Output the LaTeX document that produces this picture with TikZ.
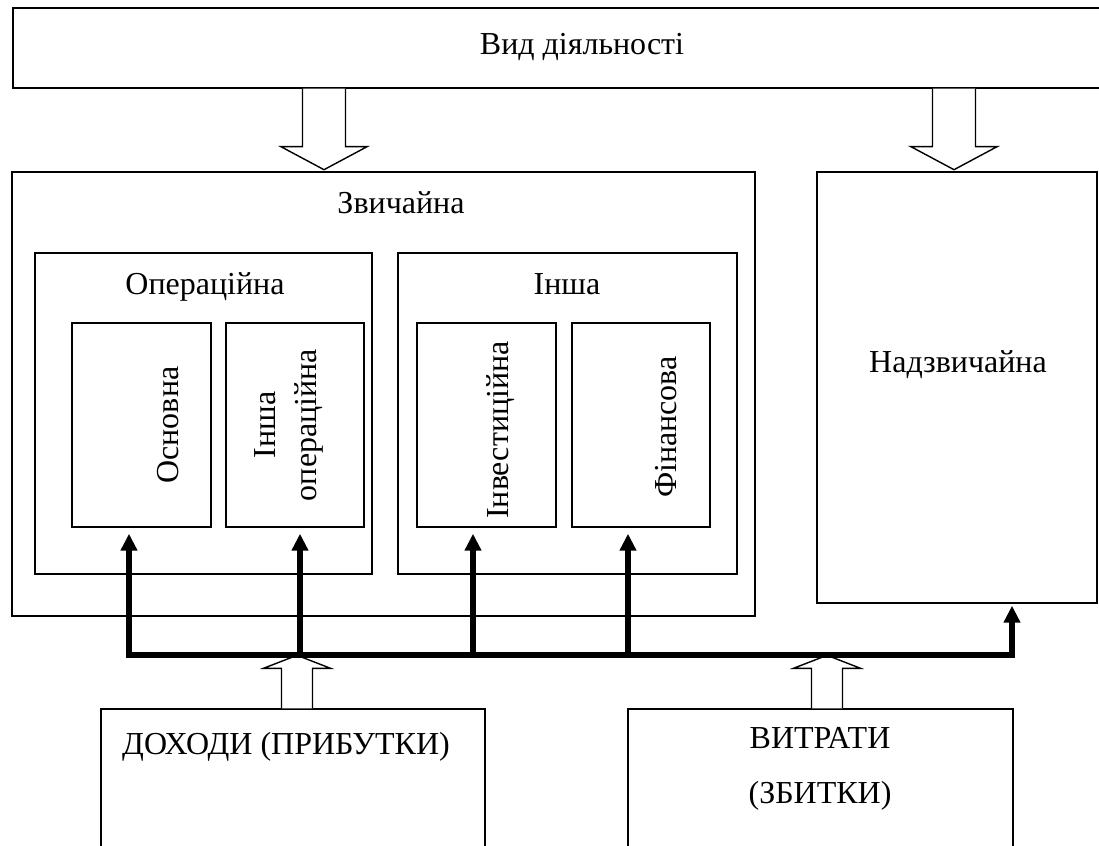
\documentclass[tikz,border=0pt]{standalone}
\usepackage{fontspec}
\setmainfont{Liberation Serif}
\usetikzlibrary{arrows.meta,fit}
\begin{document}
\begin{tikzpicture}[x=1pt,y=-1pt,
  box/.style={draw, line width=1.4pt, inner sep=0pt},
  lbl/.style={font=\fontsize{32}{41}\selectfont, inner sep=0pt, anchor=base},
  rlbl/.style={lbl, rotate=90},
  bus/.style={line width=5.5pt, line join=miter},
  bustip/.tip={Triangle[width=16pt,length=17pt]},
  hollow/.style={draw, line width=1.4pt, fill=white, line join=miter},
  hdown/.pic={\draw[hollow] (-21.5,0) -- (-21.5,58) -- (-43,58) -- (0,81) -- (43,58) -- (21.5,58) -- (21.5,0);},
  hup/.pic={\draw[hollow] (-15.5,0) -- (-15.5,-40) -- (-33.5,-40) -- (0,-53) -- (33.5,-40) -- (15.5,-40) -- (15.5,0);}]
\useasboundingbox (0,0) rectangle (1099,845);
\clip (0,0) rectangle (1099,845);
\fill[white] (0,0) rectangle (1099,845);
% boxes
\node[box, fit={(13,8) (1106,88)}] (vid) {};
\node[box, fit={(12,172) (755,616)}] (zv) {};
\node[box, fit={(817,172) (1097,603)}] (nad) {};
\node[box, fit={(35,253) (372,574)}] (oper) {};
\node[box, fit={(398,253) (737,574)}] (insha) {};
\node[box, fit={(72,323) (211,527)}] (osn) {};
\node[box, fit={(226,323) (364,527)}] (inop) {};
\node[box, fit={(417,323) (556,527)}] (inv) {};
\node[box, fit={(572,323) (710,527)}] (fin) {};
\node[box, fit={(101,709) (485,870)}] (doh) {};
\node[box, fit={(628,709) (1013,870)}] (vyt) {};
% labels
\node[lbl] (tvid) at (582,55) {Вид діяльності};
\node[lbl] (tzv) at (401,213) {Звичайна};
\node[lbl] (toper) at (205,294) {Операційна};
\node[lbl] (tinsha) at (567,294) {Інша};
\node[lbl] (tnad) at (958,372) {Надзвичайна};
\node[rlbl] (tosn) at (178,425) {Основна};
\node[font=\fontsize{32}{41}\selectfont, inner sep=0pt, rotate=90, align=center] (tinop) at (289,425) {Інша\\операційна};
\node[rlbl] (tinv) at (508,430) {Інвестиційна};
\node[rlbl] (tfin) at (676,427) {Фінансова};
\node[lbl] (tdoh) at (286,754) {ДОХОДИ (ПРИБУТКИ)};
\node[lbl] (tvyt1) at (820,748) {ВИТРАТИ};
\node[lbl] (tvyt2) at (820,803) {(ЗБИТКИ)};
% hollow arrows
\pic at (vid.south -| zv.north -| 324,0) {hdown};
\pic at (vid.south -| 954,0) {hdown};
\pic at (doh.north -| 297,0) {hup};
\pic at (vyt.north -| 827,0) {hup};
% bus
\coordinate (j1) at (129,655);
\coordinate (j2) at (300,655);
\coordinate (j3) at (473,655);
\coordinate (j4) at (628,655);
\coordinate (j5) at (1012,655);
\draw[bus, bustip-bustip] ([yshift=-6pt]osn.south -| j1) -- (j1) -- (j5) -- ([yshift=-2pt]nad.south -| j5);
\draw[bus, -bustip] (j2) -- ([yshift=-6pt]inop.south -| j2);
\draw[bus, -bustip] (j3) -- ([yshift=-6pt]inv.south -| j3);
\draw[bus, -bustip] (j4) -- ([yshift=-6pt]fin.south -| j4);
\end{tikzpicture}
\end{document}
